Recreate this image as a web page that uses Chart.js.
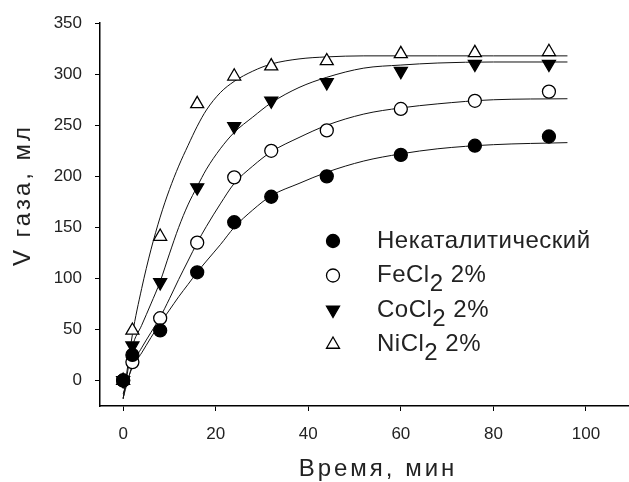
<!DOCTYPE html>
<html>
<head>
<meta charset="utf-8">
<script src="https://cdn.jsdelivr.net/npm/chart.js@4.4.1/dist/chart.umd.min.js"></script>
<style>
  html, body { margin: 0; padding: 0; background: #fff; overflow: hidden; }
  #wrap { width: 629px; height: 482px; }
</style>
</head>
<body>
<div id="wrap"><canvas id="chart" width="629" height="482"></canvas></div>
<script>
// measured points, time in minutes
const times = [0, 2, 8, 16, 24, 32, 44, 60, 76, 92];
const uncatalyzed = [0, 25, 49, 106, 155, 180, 200, 221, 230, 239];
const fecl2 = [0, 18, 61, 135, 199, 225, 245, 266, 274, 283];
const cocl2 = [0, 34, 96, 189, 249, 274, 292, 303, 310, 310];
const nicl2 = [0, 49, 141, 271, 298, 308, 313, 320, 321, 322];

// fitted curves
const fitTimes = [0, 2, 4, 6, 8, 10, 12, 14, 16, 18, 21, 24, 28, 32, 38, 44, 52, 60, 68, 80, 96];
const uncatalyzedFit = [-13, 13, 27, 42, 56, 69, 82, 94, 106, 117, 133, 150, 167, 181, 193, 204, 215, 222, 227, 231, 233];
const fecl2Fit = [-17, 15, 32, 47, 62, 80, 99, 117, 135, 151, 173, 193, 210, 224, 238, 250, 261, 267, 271, 275, 276];
const cocl2Fit = [-18, 33, 54, 75, 97, 124, 150, 172, 190, 207, 227, 243, 258, 272, 287, 297, 306, 309, 311, 312, 312];
const nicl2Fit = [-18, 45, 90, 128, 160, 187, 210, 230, 249, 265, 282, 293, 303, 310, 315, 317, 318, 318, 318, 318, 318];

const seriesNames = ['Некаталитический', 'FeCl_2 2%', 'CoCl_2 2%', 'NiCl_2 2%'];
const xTicks = [0, 20, 40, 60, 80, 100];
const yTicks = [0, 50, 100, 150, 200, 250, 300, 350];
const xTitle = 'Время, мин';
const yTitle = 'V газа, мл';

const FONT = '"Liberation Sans", Arial, sans-serif';
const INK = '#222';

const pts = (xs, ys) => xs.map((x, i) => ({ x, y: ys[i] }));

const markers = [
  { style: 'circle', rotation: 0, fill: '#000', radius: 6.5 },
  { style: 'circle', rotation: 0, fill: '#fff', radius: 6.5 },
  { style: 'triangle', rotation: 180, fill: '#000', radius: 7.5 },
  { style: 'triangle', rotation: 0, fill: '#fff', radius: 7.5 },
];

const measured = [uncatalyzed, fecl2, cocl2, nicl2];
const fits = [uncatalyzedFit, fecl2Fit, cocl2Fit, nicl2Fit];

const scatterSets = measured.map((ys, i) => ({
  type: 'scatter',
  label: seriesNames[i].replace('_2', '₂'),
  legendName: seriesNames[i],
  marker: markers[i],
  data: pts(times, ys),
  showLine: false,
  pointStyle: markers[i].style,
  rotation: markers[i].rotation,
  pointRadius: markers[i].radius,
  pointHoverRadius: markers[i].radius,
  backgroundColor: markers[i].fill,
  borderColor: '#000',
  borderWidth: 1.3,
}));

const fitSets = fits.map(ys => ({
  type: 'line',
  data: pts(fitTimes, ys),
  borderColor: '#111',
  borderWidth: 1,
  pointRadius: 0,
  cubicInterpolationMode: 'monotone',
  fill: false,
}));

function drawMarker(ctx, m, x, y) {
  ctx.beginPath();
  if (m.style === 'circle') {
    ctx.arc(x, y, m.radius, 0, Math.PI * 2);
  } else {
    let rad = m.rotation * Math.PI / 180;
    for (let k = 0; k < 3; k++) {
      const px = x + Math.sin(rad) * m.radius, py = y - Math.cos(rad) * m.radius;
      k ? ctx.lineTo(px, py) : ctx.moveTo(px, py);
      rad += 2 * Math.PI / 3;
    }
  }
  ctx.closePath();
  ctx.fillStyle = m.fill;
  ctx.fill();
  ctx.lineWidth = 1.3;
  ctx.strokeStyle = '#000';
  ctx.stroke();
}

// legend with real subscripts + axis titles placed like the original
const annotate = {
  id: 'annotate',
  afterDraw(chart, args, o) {
    const ctx = chart.ctx;
    ctx.save();
    ctx.fillStyle = INK;
    ctx.textBaseline = 'middle';
    ctx.textAlign = 'left';
    ctx.font = '24px ' + FONT;
    ctx.letterSpacing = '0.5px';
    chart.data.datasets.filter(d => d.legendName).forEach((d, i) => {
      const y = o.legendY + i * o.legendGap;
      drawMarker(ctx, d.marker, o.markerX, y);
      ctx.fillStyle = INK;
      let x = o.textX;
      d.legendName.split('_').forEach((part, j) => {
        if (j === 0) {
          ctx.fillText(part, x, y);
          x += ctx.measureText(part).width;
        } else {
          ctx.fillText(part[0], x, y + 9);
          x += ctx.measureText(part[0]).width;
          const rest = part.slice(1);
          ctx.fillText(rest, x, y);
          x += ctx.measureText(rest).width;
        }
      });
    });

    ctx.letterSpacing = '3px';
    ctx.textAlign = 'center';
    ctx.fillText(xTitle, o.xTitleX, o.xTitleY);
    ctx.translate(o.yTitleX, o.yTitleY);
    ctx.rotate(-Math.PI / 2);
    ctx.fillText(yTitle, 0, 0);
    ctx.restore();
  }
};

new Chart(document.getElementById('chart'), {
  data: { datasets: [...scatterSets, ...fitSets] },
  plugins: [annotate],
  options: {
    responsive: false,
    devicePixelRatio: 1,
    animation: false,
    layout: { autoPadding: false, padding: { top: 23, right: 0, bottom: 0, left: 0 } },
    plugins: {
      legend: { display: false },
      tooltip: { enabled: false },
      annotate: {
        markerX: 333, textX: 377, legendY: 241, legendGap: 34.5,
        xTitleX: 378, xTitleY: 469, yTitleX: 23, yTitleY: 195,
      },
    },
    scales: {
      x: {
        type: 'linear',
        min: -5,
        max: 109.3,
        afterFit: s => { s.height = 76; },
        afterBuildTicks: s => { s.ticks = xTicks.map(v => ({ value: v })); },
        grid: { drawOnChartArea: false, drawTicks: true, tickLength: 5, color: '#000' },
        border: { display: true, color: '#000', width: 1.5 },
        ticks: { color: INK, font: { family: FONT, size: 17 }, padding: 13, maxRotation: 0 },
      },
      y: {
        type: 'linear',
        min: -25,
        max: 350,
        afterFit: s => { s.width = 100; },
        afterBuildTicks: s => { s.ticks = yTicks.map(v => ({ value: v })); },
        grid: { drawOnChartArea: false, drawTicks: true, tickLength: 5, color: '#000' },
        border: { display: true, color: '#000', width: 1.5 },
        ticks: { color: INK, font: { family: FONT, size: 17 }, padding: 13 },
      },
    },
  },
});
</script>
</body>
</html>
